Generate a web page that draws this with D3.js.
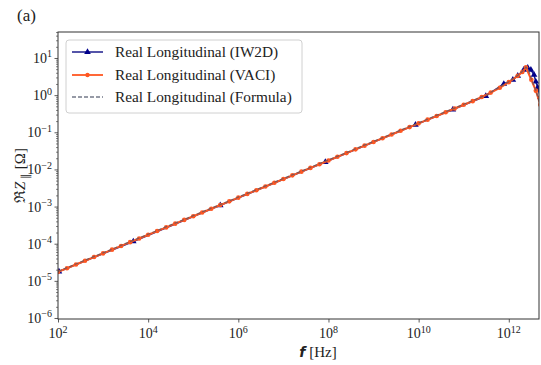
<!DOCTYPE html>
<html>
<head>
<meta charset="utf-8">
<script src="https://cdn.jsdelivr.net/npm/d3@7"></script>
<style>
  html, body { margin: 0; padding: 0; background: #fff; }
  svg { display: block; font-family: "Liberation Serif", "Times New Roman", serif; }
</style>
</head>
<body>
<svg id="chart" width="541" height="365"></svg>
<script>
// Real part of the longitudinal impedance, three computations

// IW2D: frequency [Hz] and Re Z [Ohm]
const iw2dFreq = [1.05e2, 4.68e3, 3.98e5, 8.5e7, 8.5e9, 5.75e10, 3.09e11, 7.76e11,
                  1.23e12, 1.58e12, 2.14e12, 2.63e12, 3.09e12, 3.63e12, 3.98e12, 4.37e12, 5.0e12];
const iw2dRe   = [1.78e-5, 1.15e-4, 1.08e-3, 1.58e-2, 0.158, 0.41, 0.95, 2.0,
                  2.6, 3.3, 4.8, 5.4, 4.8, 3.5, 2.3, 1.6, 0.9];

// VACI: frequency [Hz] and Re Z [Ohm]
const vaciFreq = [
  1e2, 1.58e2, 2.51e2, 3.98e2, 6.31e2,
  1e3, 1.58e3, 2.51e3, 3.98e3, 6.31e3,
  1e4, 1.58e4, 2.51e4, 3.98e4, 6.31e4,
  1e5, 1.58e5, 2.51e5, 3.98e5, 6.31e5,
  1e6, 1.58e6, 2.51e6, 3.98e6, 6.31e6,
  1e7, 1.58e7, 2.51e7, 3.98e7, 6.31e7,
  1e8, 1.58e8, 2.51e8, 3.98e8, 6.31e8,
  1e9, 1.58e9, 2.51e9, 3.98e9, 6.31e9,
  1e10, 1.58e10, 2.51e10, 3.98e10, 6.31e10,
  1e11, 1.58e11, 2.51e11, 3.98e11, 6.31e11,
  1e12, 1.58e12, 2.0e12, 2.4e12, 3.16e12, 3.98e12, 5.0e12
];
const vaciRe = [
  1.74e-5, 2.19e-5, 2.75e-5, 3.47e-5, 4.37e-5,
  5.50e-5, 6.92e-5, 8.71e-5, 1.10e-4, 1.38e-4,
  1.74e-4, 2.19e-4, 2.75e-4, 3.47e-4, 4.37e-4,
  5.50e-4, 6.92e-4, 8.71e-4, 1.10e-3, 1.38e-3,
  1.74e-3, 2.19e-3, 2.75e-3, 3.47e-3, 4.37e-3,
  5.50e-3, 6.92e-3, 8.71e-3, 1.10e-2, 1.38e-2,
  1.74e-2, 2.19e-2, 2.75e-2, 3.47e-2, 4.37e-2,
  5.50e-2, 6.92e-2, 8.71e-2, 0.110, 0.138,
  0.174, 0.219, 0.275, 0.347, 0.437,
  0.550, 0.69, 0.89, 1.17, 1.58,
  2.24, 3.31, 4.2, 5.6, 2.6, 1.32, 0.55
];

// Analytic formula: frequency [Hz] and Re Z [Ohm]
const formulaFreq = [1e2, 1e3, 1e4, 1e5, 1e6, 1e7, 1e8, 1e9, 1e10, 1e11,
                     3.16e11, 1e12, 1.58e12, 2.0e12, 2.4e12, 2.8e12, 3.16e12, 3.98e12, 5.0e12];
const formulaRe   = [1.80e-5, 5.69e-5, 1.80e-4, 5.69e-4, 1.80e-3, 5.69e-3, 1.80e-2, 5.69e-2, 0.180, 0.569,
                     1.01, 2.3, 3.4, 4.4, 5.7, 4.5, 2.7, 1.35, 0.56];

// Tick exponents
const xTickExps = [2, 4, 6, 8, 10, 12];
const yTickExps = [-6, -5, -4, -3, -2, -1, 0, 1];

const seriesNames = ["Real Longitudinal (IW2D)", "Real Longitudinal (VACI)", "Real Longitudinal (Formula)"];

const svg = d3.select("#chart");
const margin = { left: 58, right: 2, top: 32, bottom: 46 };
const W = 541, H = 365;
const x0 = margin.left, x1 = W - margin.right;
const y0 = margin.top, y1 = H - margin.bottom;

const x = d3.scaleLog().domain([1e2, Math.pow(10, 12.67)]).range([x0, x1]);
const y = d3.scaleLog().domain([Math.pow(10, -6.027), Math.pow(10, 1.70)]).range([y1, y0]);

const blue = "#1c1c8c", blueMark = "#00008b";
const orange = "#ff5722";
const grey = "#50566a";

svg.append("defs").append("clipPath").attr("id", "plotclip")
  .append("rect").attr("x", x0).attr("y", y0).attr("width", x1 - x0).attr("height", y1 - y0);

const sup = { "-": "\u2212", "0": "0", "1": "1", "2": "2", "3": "3", "4": "4", "5": "5", "6": "6", "7": "7", "8": "8", "9": "9" };
function supText(e) { return String(e).split("").map(c => sup[c]).join(""); }

// Axes
const xAxis = d3.axisBottom(x).tickValues(xTickExps.map(e => Math.pow(10, e)))
  .tickFormat("").tickSizeInner(3.5).tickSizeOuter(0);
const gx = svg.append("g").attr("transform", `translate(0,${y1})`).call(xAxis);
gx.select(".domain").remove();
gx.selectAll("line").attr("stroke", "#333").attr("stroke-width", 0.8);

xTickExps.forEach(e => {
  const t = svg.append("text").attr("x", x(Math.pow(10, e))).attr("y", y1 + 19)
    .attr("text-anchor", "middle").attr("font-size", 14).attr("fill", "#222");
  t.append("tspan").text("10");
  t.append("tspan").attr("font-size", 10).attr("dy", -5.5).text(supText(e));
});

const yMinor = [];
for (let e = -7; e <= 1; e++) for (let m = 2; m <= 9; m++) {
  const v = m * Math.pow(10, e);
  if (v >= y.domain()[0] && v <= y.domain()[1]) yMinor.push(v);
}
const gyMinor = svg.append("g").attr("transform", `translate(${x0},0)`)
  .call(d3.axisLeft(y).tickValues(yMinor).tickFormat("").tickSizeInner(2).tickSizeOuter(0));
gyMinor.select(".domain").remove();
gyMinor.selectAll("line").attr("stroke", "#333").attr("stroke-width", 0.6);

const gy = svg.append("g").attr("transform", `translate(${x0},0)`)
  .call(d3.axisLeft(y).tickValues(yTickExps.map(e => Math.pow(10, e))).tickFormat("").tickSizeInner(3.5).tickSizeOuter(0));
gy.select(".domain").remove();
gy.selectAll("line").attr("stroke", "#333").attr("stroke-width", 0.8);

yTickExps.forEach(e => {
  const t = svg.append("text").attr("x", x0 - 6).attr("y", y(Math.pow(10, e)) + 5)
    .attr("text-anchor", "end").attr("font-size", 14).attr("fill", "#222");
  t.append("tspan").text("10");
  t.append("tspan").attr("font-size", 10).attr("dy", -5.5).text(supText(e));
});

// Data layers
const plot = svg.append("g").attr("clip-path", "url(#plotclip)");
const line = d3.line().x(d => x(d[0])).y(d => y(d[1]));

const iw2d = iw2dFreq.map((f, i) => [f, iw2dRe[i]]);
const vaci = vaciFreq.map((f, i) => [f, vaciRe[i]]);
const formula = formulaFreq.map((f, i) => [f, formulaRe[i]]);

const tri = d3.symbol().type(d3.symbolTriangle).size(19);

plot.append("path").datum(iw2d).attr("d", line).attr("fill", "none")
  .attr("stroke", blue).attr("stroke-width", 1.5);
plot.selectAll(".iw2d").data(iw2d).join("path").attr("class", "iw2d")
  .attr("d", tri).attr("transform", d => `translate(${x(d[0])},${y(d[1])})`).attr("fill", blueMark);

plot.append("path").datum(vaci).attr("d", line).attr("fill", "none")
  .attr("stroke", orange).attr("stroke-width", 2);
plot.selectAll(".vaci").data(vaci).join("circle").attr("class", "vaci")
  .attr("cx", d => x(d[0])).attr("cy", d => y(d[1])).attr("r", 2.3).attr("fill", orange);

plot.append("path").datum(formula).attr("d", line).attr("fill", "none")
  .attr("stroke", grey).attr("stroke-opacity", 0.7).attr("stroke-width", 1.3)
  .attr("stroke-dasharray", "4,2");

// Frame
svg.append("rect").attr("x", x0).attr("y", y0).attr("width", x1 - x0).attr("height", y1 - y0)
  .attr("fill", "none").attr("stroke", "#333").attr("stroke-width", 1);

// Legend
const lg = svg.append("g");
lg.append("rect").attr("x", 66).attr("y", 40).attr("width", 236).attr("height", 73).attr("rx", 3)
  .attr("fill", "#fff").attr("fill-opacity", 0.85).attr("stroke", "#d0d0d0").attr("stroke-width", 1);
const rowsY = [52, 75, 97];
// IW2D
lg.append("line").attr("x1", 72).attr("x2", 103).attr("y1", rowsY[0]).attr("y2", rowsY[0])
  .attr("stroke", blue).attr("stroke-width", 1.5);
lg.append("path").attr("d", tri).attr("transform", `translate(87.5,${rowsY[0]})`).attr("fill", blueMark);
// VACI
lg.append("line").attr("x1", 72).attr("x2", 103).attr("y1", rowsY[1]).attr("y2", rowsY[1])
  .attr("stroke", orange).attr("stroke-width", 1.8);
lg.append("circle").attr("cx", 87.5).attr("cy", rowsY[1]).attr("r", 2.2).attr("fill", orange);
// Formula
lg.append("line").attr("x1", 72).attr("x2", 103).attr("y1", rowsY[2]).attr("y2", rowsY[2])
  .attr("stroke", grey).attr("stroke-opacity", 0.8).attr("stroke-width", 1.3).attr("stroke-dasharray", "4,2");
seriesNames.forEach((s, i) => {
  lg.append("text").attr("x", 115).attr("y", rowsY[i] + 5).attr("font-size", 15.3).attr("fill", "#222").text(s);
});

// Axis titles
const xt = svg.append("text").attr("x", 318).attr("y", 357).attr("text-anchor", "middle")
  .attr("font-size", 15).attr("fill", "#222");
xt.append("tspan").attr("font-style", "italic").attr("font-weight", "bold")
  .attr("font-family", "DejaVu Sans").attr("font-size", 14).text("f");
xt.append("tspan").text(" [Hz]");

const yt = svg.append("text").attr("transform", `translate(25,${(y0 + y1) / 2}) rotate(-90)`)
  .attr("text-anchor", "middle").attr("font-size", 15).attr("fill", "#222");
yt.append("tspan").text("\u211C");
yt.append("tspan").attr("font-style", "italic").text("Z");
yt.append("tspan").attr("font-size", 11).attr("dy", 4).text(" \u2225");
yt.append("tspan").attr("dy", -4).text(" [\u03A9]");

// Panel tag
svg.append("text").attr("x", 17).attr("y", 21).attr("font-size", 17).attr("fill", "#222").text("(a)");
</script>
</body>
</html>
